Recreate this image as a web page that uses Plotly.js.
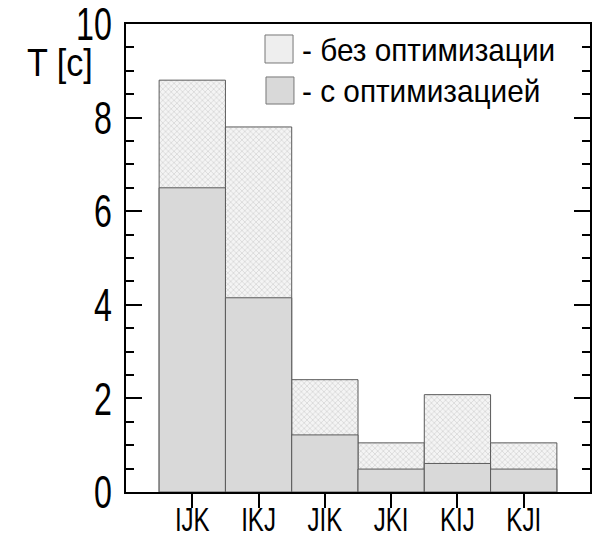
<!DOCTYPE html>
<html>
<head>
<meta charset="utf-8">
<script src="https://cdn.plot.ly/plotly-3.0.1.min.js"></script>
<style>html,body{margin:0;padding:0;background:#fff;}#chart{width:596px;height:534px;}</style>
</head>
<body>
<div id="chart"></div>
<script>
const categories = ['IJK', 'IKJ', 'JIK', 'JKI', 'KIJ', 'KJI'];
const withoutOpt = [8.8, 7.8, 2.4, 1.05, 2.08, 1.05];
const withOpt = [6.5, 4.15, 1.22, 0.49, 0.61, 0.49];
const seriesNames = ['- без оптимизации', '- с оптимизацией'];
const yTickVals = [0, 2, 4, 6, 8, 10];

const fam = 'Liberation Sans, Arial, sans-serif';

const traces = [
  {
    type: 'bar', x: categories, y: withoutOpt, name: seriesNames[0], width: 1,
    marker: {color: '#f2f2f2', line: {color: '#5a5a5a', width: 1},
      pattern: {shape: 'x', size: 4, solidity: 0.25, fgcolor: '#c8c8c8', bgcolor: '#f4f4f4'}},
    showlegend: false, hoverinfo: 'skip'
  },
  {
    type: 'bar', x: categories, y: withOpt, name: seriesNames[1], width: 1,
    marker: {color: '#d9d9d9', line: {color: '#5a5a5a', width: 1}},
    showlegend: false, hoverinfo: 'skip'
  }
];

const layout = {
  width: 596, height: 534,
  margin: {l: 126, r: 6, t: 24, b: 42},
  paper_bgcolor: '#ffffff', plot_bgcolor: '#ffffff',
  barmode: 'overlay', bargap: 0,
  showlegend: false,
  xaxis: {
    type: 'category', range: [-1, 6],
    showline: true, linecolor: '#000', linewidth: 2, mirror: true,
    ticks: 'outside', ticklen: 14, tickwidth: 2, tickcolor: '#000',
    tickfont: {family: fam, size: 33, color: '#000'},
    ticklabelstandoff: -17, ticklabeloverflow: 'allow',
    showgrid: false, zeroline: false, fixedrange: true
  },
  yaxis: {
    range: [0, 10], tickvals: yTickVals, ticktext: yTickVals.map(String),
    showline: true, linecolor: '#000', linewidth: 2, mirror: 'ticks',
    ticks: 'inside', ticklen: 16, tickwidth: 2, tickcolor: '#000',
    minor: {dtick: 0.5, ticks: 'inside', ticklen: 8, tickwidth: 2, tickcolor: '#000', showgrid: false},
    tickfont: {family: fam, size: 46, color: '#000'},
    ticklabelstandoff: 3, ticklabeloverflow: 'allow',
    showgrid: false, zeroline: false, fixedrange: true
  },
  shapes: [
    {type: 'rect', xref: 'paper', yref: 'paper', x0: 0.2996, x1: 0.360, y0: 0.9167, y1: 0.9765,
      fillcolor: '#eeeeee', line: {color: '#777777', width: 1}},
    {type: 'rect', xref: 'paper', yref: 'paper', x0: 0.3017, x1: 0.362, y0: 0.829, y1: 0.8868,
      fillcolor: '#d9d9d9', line: {color: '#777777', width: 1}}
  ],
  annotations: [
    {xref: 'paper', yref: 'paper', x: 0.375, y: 0.944, xanchor: 'left', yanchor: 'middle',
      text: seriesNames[0], showarrow: false, font: {family: fam, size: 32, color: '#000'}},
    {xref: 'paper', yref: 'paper', x: 0.375, y: 0.857, xanchor: 'left', yanchor: 'middle',
      text: seriesNames[1], showarrow: false, font: {family: fam, size: 32, color: '#000'}},
    {xref: 'paper', yref: 'paper', x: -0.218, y: 0.917, xanchor: 'left', yanchor: 'middle',
      text: 'T [c]', showarrow: false, font: {family: fam, size: 38, color: '#000'}}
  ]
};

function squeeze(el, s, mode) {
  const bb = el.getBBox();
  const ax = mode === 'end' ? bb.x + bb.width : (mode === 'start' ? bb.x : bb.x + bb.width / 2);
  const t = el.getAttribute('transform') || '';
  el.setAttribute('transform', t + ' translate(' + ax + ',0) scale(' + s + ',1) translate(' + (-ax) + ',0)');
}

Plotly.newPlot('chart', traces, layout, {displayModeBar: false, staticPlot: true}).then(function () {
  document.querySelectorAll('.ytick text').forEach(function (el) { squeeze(el, 0.7, 'end'); });
  document.querySelectorAll('.xtick text').forEach(function (el) { squeeze(el, 0.73, 'middle'); });
  const ann = document.querySelectorAll('.annotation-text');
  squeeze(ann[0], 0.93, 'start');
  squeeze(ann[1], 0.93, 'start');
  squeeze(ann[2], 0.9, 'start');
});
</script>
</body>
</html>
